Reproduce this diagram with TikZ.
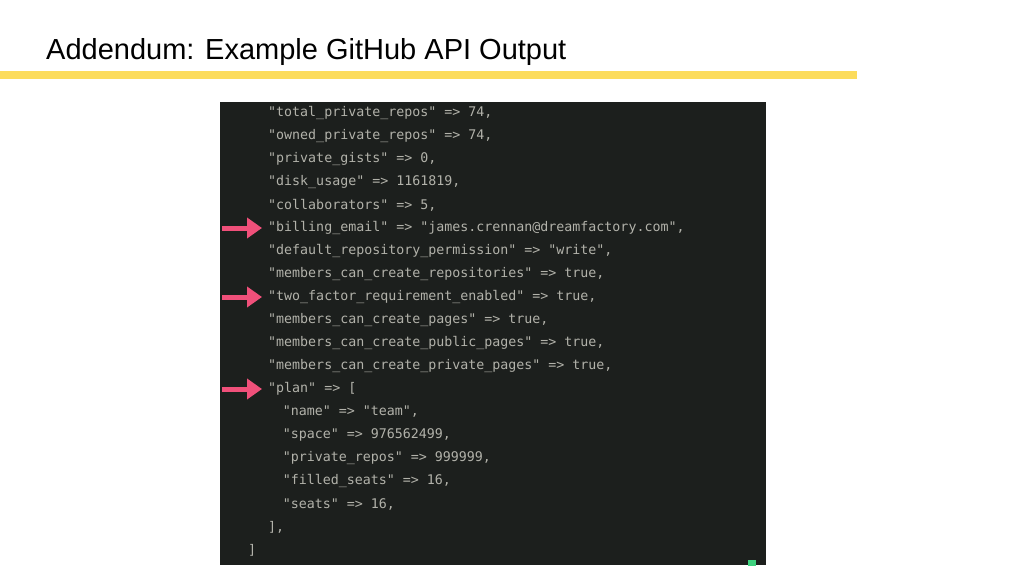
\documentclass[tikz,border=0pt]{standalone}
\usepackage{fontspec}
\setmainfont{Liberation Sans}
\newfontfamily\termfont{DejaVu Sans Mono}
\usetikzlibrary{arrows.meta}
\definecolor{termbg}{HTML}{1C1F1D}
\definecolor{termfg}{HTML}{B2B2AA}
\definecolor{marker}{HTML}{F0507A}
\definecolor{rule}{HTML}{FCDC5C}
\definecolor{cursor}{HTML}{3FD27F}

\begin{document}
\begin{tikzpicture}
    [x=1pt, y=-1pt,
    codeline/.style={anchor=west, inner sep=0pt, text=termfg, font=\termfont\fontsize{13.3}{14}\selectfont},
    pointer/.style={marker, line width=5pt, -{Triangle[length=15pt, width=20pt]}, shorten >=6pt}]
    \useasboundingbox (0,0) rectangle (1024,576);
    \node[anchor=base west, inner sep=0pt, font=\fontsize{29}{32}\selectfont] (title) at (46,59) {Addendum: Example GitHub API Output};
    \fill[rule] (0,71) rectangle (857,79);
    \fill[termbg] (220,102) rectangle (766,565);
    \fill[cursor] (748,560) rectangle (756,566);
    \foreach \t [count=\i] in {
        {"total\_private\_repos" => 74,},
        {"owned\_private\_repos" => 74,},
        {"private\_gists" => 0,},
        {"disk\_usage" => 1161819,},
        {"collaborators" => 5,},
        {"billing\_email" => "james.crennan@dreamfactory.com",},
        {"default\_repository\_permission" => "write",},
        {"members\_can\_create\_repositories" => true,},
        {"two\_factor\_requirement\_enabled" => true,},
        {"members\_can\_create\_pages" => true,},
        {"members\_can\_create\_public\_pages" => true,},
        {"members\_can\_create\_private\_pages" => true,},
        {"plan" => [},
        {\hspace*{2ex}"name" => "team",},
        {\hspace*{2ex}"space" => 976562499,},
        {\hspace*{2ex}"private\_repos" => 999999,},
        {\hspace*{2ex}"filled\_seats" => 16,},
        {\hspace*{2ex}"seats" => 16,},
        {],}}
        \node[codeline] (l\i) at (268, 90+23*\i) {\t};
    \node[codeline] (l20) at (248, 550) {]};
    % arrows pointing at the fields of interest
    \foreach \n in {6, 9, 13}
        \coordinate (p\n) at (222, 90+23*\n);
    \foreach \n in {6, 9, 13}
        \draw[pointer] (p\n) -- (l\n.west);
\end{tikzpicture}
\end{document}
